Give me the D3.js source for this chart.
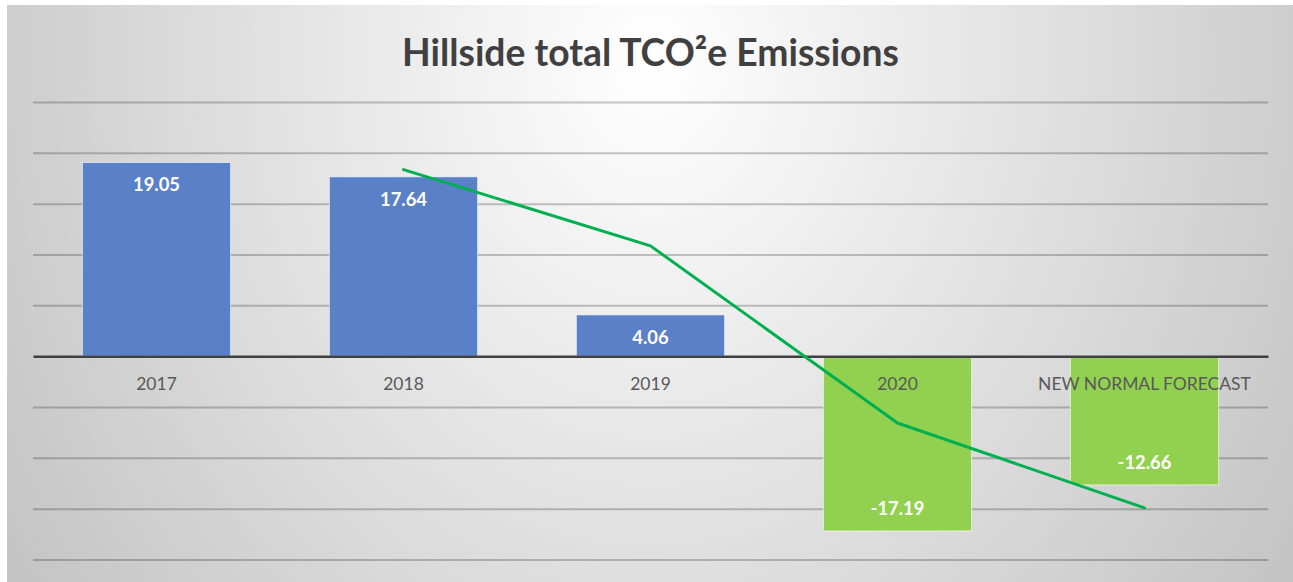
<!DOCTYPE html>
<html>
<head>
<meta charset="utf-8">
<script src="https://cdn.jsdelivr.net/npm/d3@7"></script>
<style>
  html, body { margin: 0; padding: 0; background: #ffffff; }
  svg { display: block; }
</style>
</head>
<body>
<svg id="chart" width="1293" height="582"></svg>
<script>
// ---- data ----
const categories = ["2017", "2018", "2019", "2020", "NEW NORMAL FORECAST"];
const emissions = [19.05, 17.64, 4.06, -17.19, -12.66];
// trend line (2-period moving average as drawn), starts at 2018
const trendCategories = ["2018", "2019", "2020", "NEW NORMAL FORECAST"];
const trendValues = [18.35, 10.85, -6.57, -14.93];
const yTicks = [-20, -15, -10, -5, 0, 5, 10, 15, 20, 25];
const titleText = "Hillside total TCO²e Emissions";

// ---- layout ----
const W = 1293, H = 582;
const panel = { x: 7, y: 5, w: 1286, h: 577 };
const plot = { left: 33, right: 1268, top: 102, bottom: 559.5 };
const FONT = "Lato, 'Open Sans', 'DejaVu Sans', sans-serif";

const svg = d3.select("#chart");
const defs = svg.append("defs");
const grad = defs.append("radialGradient")
  .attr("id", "bg")
  .attr("gradientUnits", "userSpaceOnUse")
  .attr("cx", 650).attr("cy", 60).attr("r", 855)
  .attr("gradientTransform", "translate(650,60) scale(1,1.22) translate(-650,-60)");
grad.append("stop").attr("offset", "0").attr("stop-color", "#ffffff");
grad.append("stop").attr("offset", "1").attr("stop-color", "#bdbdbd");

svg.append("rect")
  .attr("x", panel.x).attr("y", panel.y)
  .attr("width", panel.w).attr("height", panel.h)
  .attr("fill", "url(#bg)");

const x = d3.scaleBand()
  .domain(categories)
  .range([plot.left, plot.right])
  .paddingInner(0.4)
  .paddingOuter(0.2);

const y = d3.scaleLinear()
  .domain([d3.min(yTicks), d3.max(yTicks)])
  .range([plot.bottom, plot.top]);

// gridlines
const grid = svg.append("g")
  .attr("transform", `translate(${plot.left},0)`)
  .call(d3.axisLeft(y).tickValues(yTicks.filter(v => v !== 0))
    .tickSize(-(plot.right - plot.left)).tickFormat(""));
grid.select(".domain").remove();
grid.selectAll(".tick line")
  .attr("stroke", "#000").attr("stroke-opacity", 0.22).attr("stroke-width", 2);

// bars
const barColor = v => v >= 0 ? "#5a80c8" : "#92d050";
svg.append("g").selectAll("rect")
  .data(categories.map((c, i) => ({ c, v: emissions[i] })))
  .join("rect")
  .attr("x", d => x(d.c))
  .attr("width", x.bandwidth())
  .attr("y", d => y(Math.max(0, d.v)))
  .attr("height", d => Math.abs(y(d.v) - y(0)))
  .attr("fill", d => barColor(d.v))
  .attr("stroke", "#ffffff").attr("stroke-opacity", 0.6).attr("stroke-width", 1);

// zero axis line + category labels
const xAxis = svg.append("g")
  .attr("transform", `translate(0,${y(0)})`)
  .call(d3.axisBottom(x).tickSize(0).tickPadding(0));
xAxis.select(".domain").attr("stroke", "#404040").attr("stroke-width", 2.5);
const catLabels = xAxis.selectAll(".tick text")
  .attr("fill", "#595959")
  .attr("font-family", FONT)
  .attr("font-size", 16)
  .attr("dy", null)
  .attr("y", 34);

// fit category font width to reference ("NEW NORMAL FORECAST" ~213px)
(function () {
  const node = catLabels.filter(d => d === "NEW NORMAL FORECAST").node();
  const w = node.getComputedTextLength();
  const fs = 16 * 213 / w;
  catLabels.attr("font-size", fs);
})();

// data labels
const dl = svg.append("g").selectAll("text")
  .data(categories.map((c, i) => ({ c, v: emissions[i] })))
  .join("text")
  .attr("x", d => x(d.c) + x.bandwidth() / 2)
  .attr("y", d => d.v >= 0 ? y(d.v) + 29 : y(d.v) - 16)
  .attr("text-anchor", "middle")
  .attr("fill", "#ffffff")
  .attr("font-family", FONT)
  .attr("font-weight", "bold")
  .attr("font-size", 18)
  .text(d => d3.format(".2f")(d.v).replace("−", "-"));
(function () {
  const node = dl.filter(d => d.c === "2017").node();
  const w = node.getComputedTextLength();
  dl.attr("font-size", 18 * 47 / w);
})();

// trend line
const line = d3.line()
  .x(d => x(d.c) + x.bandwidth() / 2)
  .y(d => y(d.v));
svg.append("path")
  .datum(trendCategories.map((c, i) => ({ c, v: trendValues[i] })))
  .attr("d", line)
  .attr("fill", "none")
  .attr("stroke", "#00b050")
  .attr("stroke-width", 3)
  .attr("stroke-linejoin", "round")
  .attr("stroke-linecap", "round");

// title
const title = svg.append("text")
  .attr("x", 650.5)
  .attr("y", 66)
  .attr("text-anchor", "middle")
  .attr("fill", "#404040")
  .attr("font-family", FONT)
  .attr("font-weight", "bold")
  .attr("font-size", 32)
  .text(titleText);
(function () {
  const w = title.node().getComputedTextLength();
  title.attr("font-size", 32 * 497 / w);
})();
</script>
</body>
</html>
